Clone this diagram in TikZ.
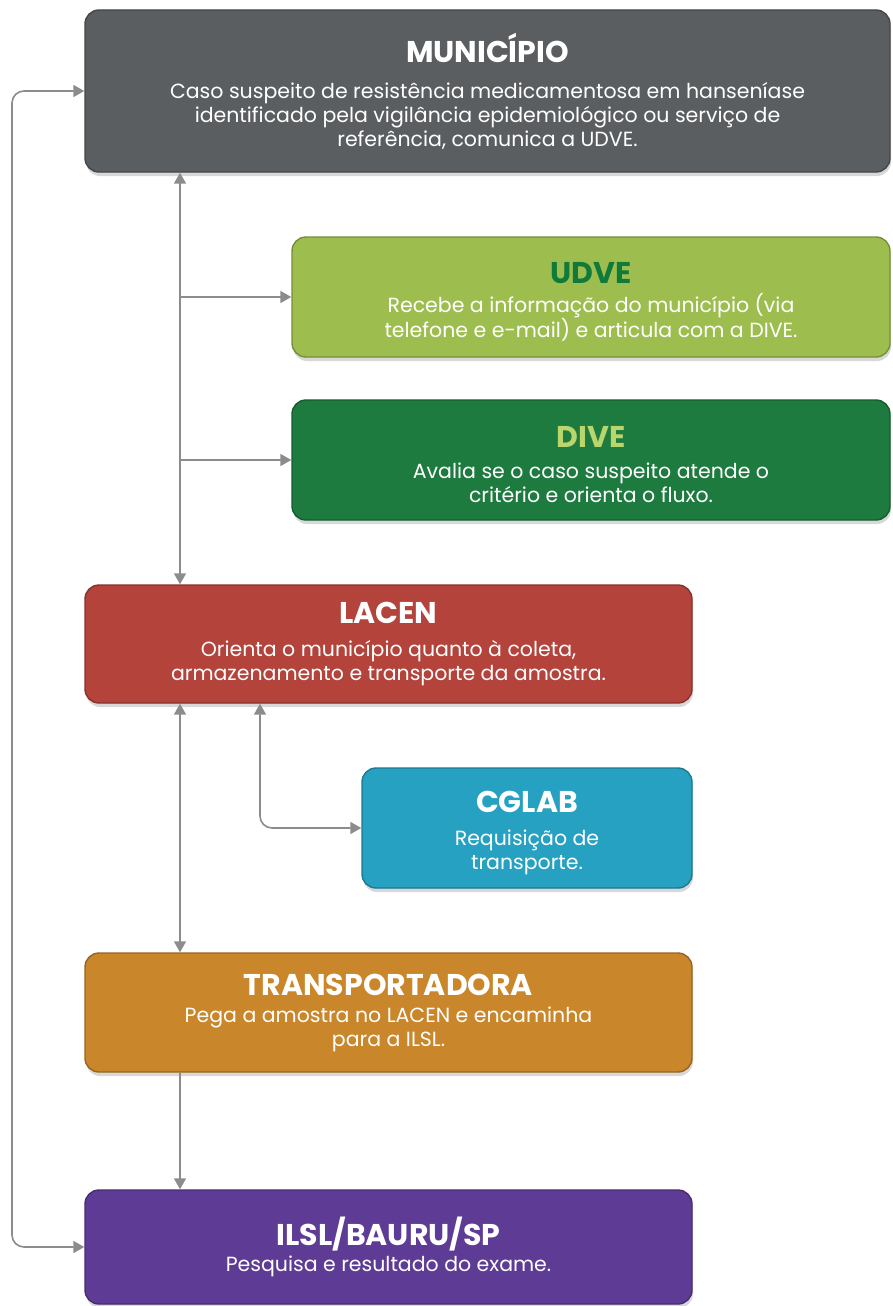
\documentclass[tikz,border=0pt]{standalone}
\usepackage{fontspec}
\setmainfont{Poppins}
\usetikzlibrary{arrows.meta,positioning,shadows}
\definecolor{munfill}{HTML}{5B5E61}
\definecolor{udvefill}{HTML}{9DBE4F}
\definecolor{udvetitle}{HTML}{107A3A}
\definecolor{divefill}{HTML}{1E7B3F}
\definecolor{divetitle}{HTML}{B9D66C}
\definecolor{lacenfill}{HTML}{B4433B}
\definecolor{cglabfill}{HTML}{26A1C2}
\definecolor{transpfill}{HTML}{C9862A}
\definecolor{ilslfill}{HTML}{5E3C95}
\definecolor{linec}{HTML}{8C8C8C}
\newcommand\boxtitle[1]{{\fontsize{30}{32}\selectfont\bfseries #1}}
\newcommand\titlestrut{\rule{0pt}{31pt}}

\begin{document}
\begin{tikzpicture}[x=1pt, y=-1pt,
  font=\fontsize{20.5}{24}\selectfont, >={Triangle[length=11pt,width=12pt]},
  b/.style={draw=#1!75!black, fill=#1, rounded corners=14pt, align=center, inner sep=0pt,
    line width=1.4pt, text=white, drop shadow={opacity=0.3, shadow xshift=1pt, shadow yshift=-4pt}},
  ln/.style={draw=linec, line width=1.6pt}]
\fill[white] (0,0) rectangle (893,1306);
\useasboundingbox (0,0) rectangle (893,1306);
\coordinate (trunk) at (180,0);
\coordinate (side) at (260,0);
\coordinate (loop) at (12,0);
\node[b=munfill, minimum width=805pt, minimum height=162pt] (mun) at (487.5,91)
  {\boxtitle{MUNICÍPIO}\\[12pt] Caso suspeito de resistência medicamentosa em hanseníase\\
   identificado pela vigilância epidemiológico ou serviço de\\ referência, comunica a UDVE.};
\node[b=udvefill, minimum width=598pt, minimum height=120pt] (udve) at (591,297)
  {\boxtitle{\titlestrut\color{udvetitle}UDVE}\\[5pt] Recebe a informação do município (via\\ telefone e e-mail) e articula com a DIVE.};
\node[b=divefill, minimum width=598pt, minimum height=120pt] (dive) at (591,460)
  {\boxtitle{\titlestrut\color{divetitle}DIVE}\\[7pt] Avalia se o caso suspeito atende o\\ critério e orienta o fluxo.};
\node[b=lacenfill, minimum width=607pt, minimum height=118pt] (lacen) at (388.5,644)
  {\boxtitle{LACEN}\\[9pt] Orienta o município quanto à coleta,\\ armazenamento e transporte da amostra.};
\node[b=cglabfill, minimum width=330pt, minimum height=120pt] (cglab) at (527,828)
  {\boxtitle{\titlestrut CGLAB}\\[9pt] Requisição de\\ transporte.};
\node[b=transpfill, minimum width=607pt, minimum height=119pt] (transp) at (388.5,1012.5)
  {\boxtitle{TRANSPORTADORA}\\[3pt] Pega a amostra no LACEN e encaminha\\ para a ILSL.};
\node[b=ilslfill, minimum width=607pt, minimum height=114pt] (ilsl) at (388.5,1247)
  {\boxtitle{ILSL/BAURU/SP}\\[2pt] Pesquisa e resultado do exame.};
\draw[ln,<->] (mun.south -| trunk) -- (lacen.north -| trunk);
\draw[ln,->] (udve.west -| trunk) -- (udve.west);
\draw[ln,->] (dive.west -| trunk) -- (dive.west);
\draw[ln,<->] (lacen.south -| trunk) -- (transp.north -| trunk);
\draw[ln,<->,rounded corners=12pt] (lacen.south -| side) |- (cglab.west);
\draw[ln,->] (transp.south -| trunk) -- (ilsl.north -| trunk);
\draw[ln,<->,rounded corners=12pt] (mun.west) -- (mun.west -| loop) -- (ilsl.west -| loop) -- (ilsl.west);
\end{tikzpicture}
\end{document}
